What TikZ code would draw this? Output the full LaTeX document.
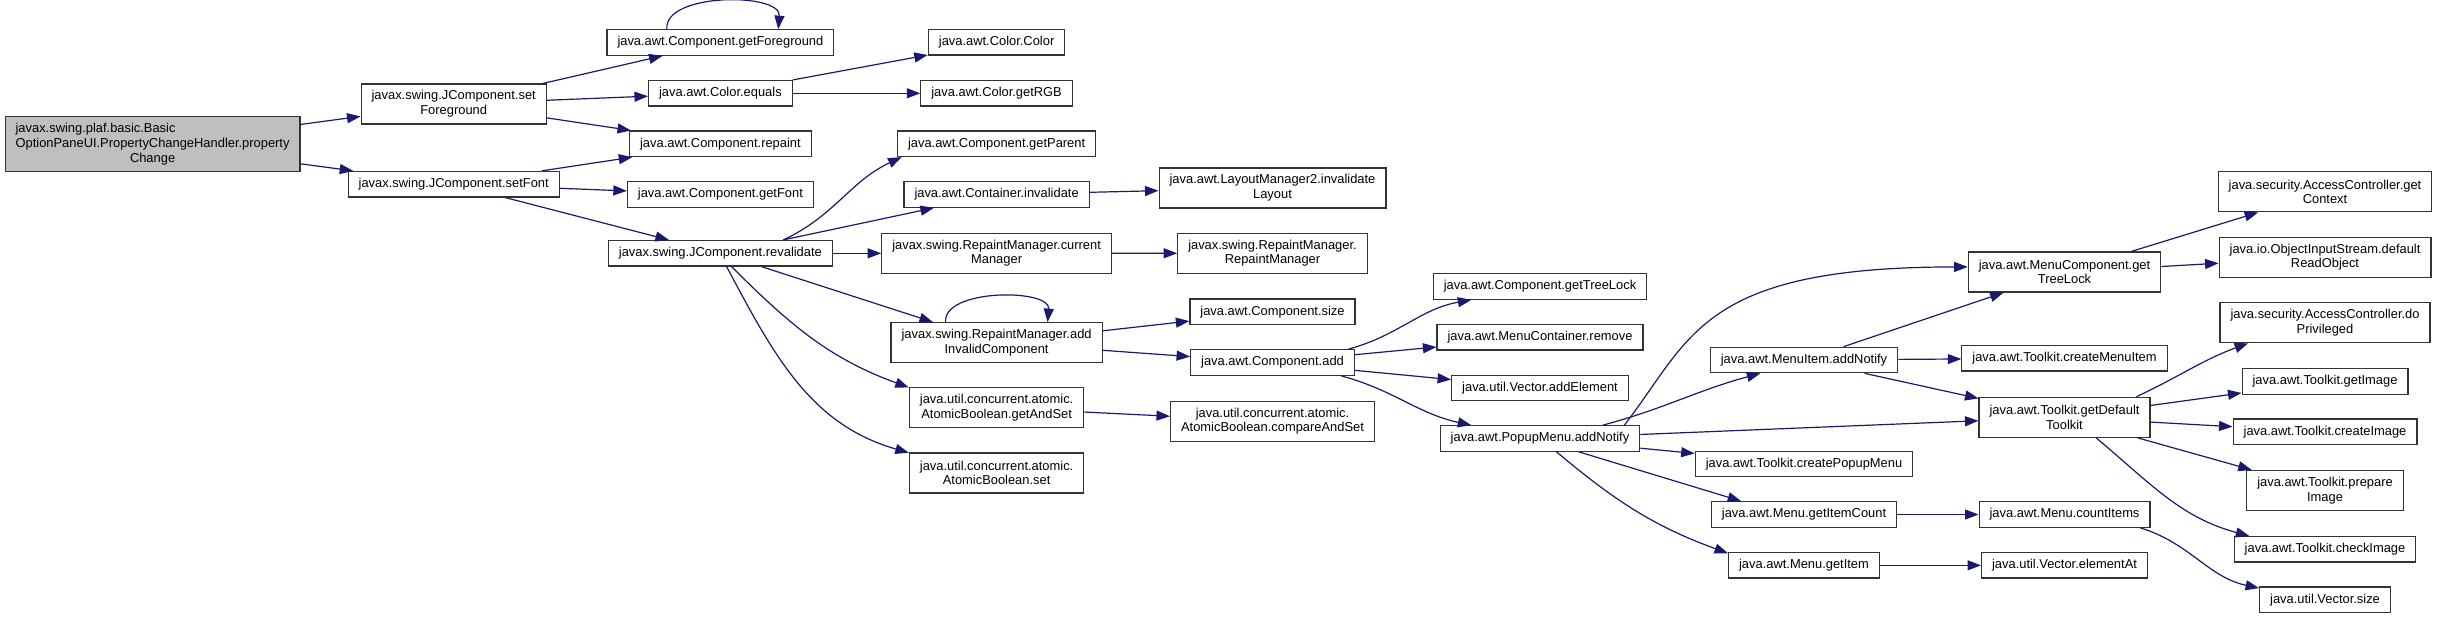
\documentclass[tikz,border=0pt]{standalone}
\usepackage{fontspec}
\setmainfont{Liberation Sans}
\usetikzlibrary{arrows.meta}
\definecolor{callblue}{HTML}{191970}
\definecolor{rootgray}{HTML}{BFBFBF}
\begin{document}
\begin{tikzpicture}[x=1pt,y=1pt,>={Triangle[length=13.5pt,width=10pt]},
	font=\fontsize{12.9pt}{14.7pt}\selectfont,
	fn/.style={draw=black!80,line width=1.2pt,fill=white,inner xsep=10.5pt,inner ysep=2pt,minimum height=25.5pt,align=center},
	fntwo/.style={fn,minimum height=40pt},
	call/.style={->,draw=callblue,line width=1.2pt}]
	\useasboundingbox (0,0) rectangle (2440,-619);
	\node[fn,fill=rootgray,minimum height=55pt,align=left] (root) at (152.6,-144.2) {javax.swing.plaf.basic.Basic\\OptionPaneUI.PropertyChangeHandler.property\\\hspace*{\fill}Change\hspace*{\fill}};
	\node[fntwo] (setfg) at (453.7,-104) {javax.swing.JComponent.set\\Foreground};
	\node[fn] (setfont) at (453.7,-184.2) {javax.swing.JComponent.setFont};
	\node[fn] (getfg) at (720.4,-42.5) {java.awt.Component.getForeground};
	\node[fn] (coleq) at (720.4,-93.3) {java.awt.Color.equals};
	\node[fn] (repaint) at (720.4,-143.8) {java.awt.Component.repaint};
	\node[fn] (getfont) at (720.4,-194.5) {java.awt.Component.getFont};
	\node[fn] (reval) at (720.4,-253.3) {javax.swing.JComponent.revalidate};
	\node[fn] (colcol) at (996.6,-42.3) {java.awt.Color.Color};
	\node[fn] (getrgb) at (996.6,-93.3) {java.awt.Color.getRGB};
	\node[fn] (getparent) at (996.6,-143.8) {java.awt.Component.getParent};
	\node[fn] (continv) at (996.6,-194.5) {java.awt.Container.invalidate};
	\node[fntwo] (curmgr) at (996.6,-253.3) {javax.swing.RepaintManager.current\\Manager};
	\node[fntwo] (addinv) at (996.6,-342.7) {javax.swing.RepaintManager.add\\InvalidComponent};
	\node[fntwo] (getandset) at (996.6,-407.7) {java.util.concurrent.atomic.\\AtomicBoolean.getAndSet};
	\node[fntwo] (atomset) at (996.6,-473) {java.util.concurrent.atomic.\\AtomicBoolean.set};
	\node[fntwo] (lminv) at (1272.5,-188) {java.awt.LayoutManager2.invalidate\\Layout};
	\node[fntwo] (rmgr) at (1272.5,-253.2) {javax.swing.RepaintManager.\\RepaintManager};
	\node[fn] (csize) at (1272.5,-311.8) {java.awt.Component.size};
	\node[fn] (cadd) at (1272.5,-362.5) {java.awt.Component.add};
	\node[fntwo] (cas) at (1272.5,-421.3) {java.util.concurrent.atomic.\\AtomicBoolean.compareAndSet};
	\node[fn] (ctreelock) at (1540,-286.5) {java.awt.Component.getTreeLock};
	\node[fn] (mcremove) at (1540,-337.2) {java.awt.MenuContainer.remove};
	\node[fn] (addelem) at (1540,-388) {java.util.Vector.addElement};
	\node[fn] (popnotify) at (1540,-438.5) {java.awt.PopupMenu.addNotify};
	\node[fn] (minotify) at (1804,-360) {java.awt.MenuItem.addNotify};
	\node[fn] (mkpopup) at (1804,-464) {java.awt.Toolkit.createPopupMenu};
	\node[fn] (itemcount) at (1804,-514.5) {java.awt.Menu.getItemCount};
	\node[fn] (getitem) at (1804,-565.3) {java.awt.Menu.getItem};
	\node[fntwo] (mctreelock) at (2064.5,-272) {java.awt.MenuComponent.get\\TreeLock};
	\node[fn] (mkmenuitem) at (2064.5,-358.3) {java.awt.Toolkit.createMenuItem};
	\node[fntwo] (deftk) at (2064.5,-417.3) {java.awt.Toolkit.getDefault\\Toolkit};
	\node[fn] (countitems) at (2064.5,-514.5) {java.awt.Menu.countItems};
	\node[fn] (elemat) at (2064.5,-565.3) {java.util.Vector.elementAt};
	\node[fntwo] (getctx) at (2325,-191.8) {java.security.AccessController.get\\Context};
	\node[fntwo] (readobj) at (2325,-257.2) {java.io.ObjectInputStream.default\\ReadObject};
	\node[fntwo] (doprivileged) at (2325,-322.7) {java.security.AccessController.do\\Privileged};
	\node[fn] (getimage) at (2325,-381.5) {java.awt.Toolkit.getImage};
	\node[fn] (mkimage) at (2325,-431.8) {java.awt.Toolkit.createImage};
	\node[fntwo] (prepimage) at (2325,-490.5) {java.awt.Toolkit.prepare\\Image};
	\node[fn] (checkimage) at (2325,-549.3) {java.awt.Toolkit.checkImage};
	\node[fn] (vsize) at (2325,-599.7) {java.util.Vector.size};
	% calls
	\draw[call] (root) -- (setfg);
	\draw[call] (root) -- (setfont);
	\draw[call] (setfg) -- (getfg);
	\draw[call] (setfg) -- (coleq);
	\draw[call] (setfg) -- (repaint);
	\draw[call] (setfont) -- (repaint);
	\draw[call] (setfont) -- (getfont);
	\draw[call] (setfont) -- (reval);
	\draw[call] (getfg.166) to[out=95,in=85,looseness=0.85] (getfg.13);
	\draw[call] (coleq) -- (colcol);
	\draw[call] (coleq) -- (getrgb);
	\draw[call] (reval.12) to[out=25,in=205] (getparent.188);
	\draw[call] (reval) -- (continv);
	\draw[call] (reval) -- (curmgr);
	\draw[call] (reval) -- (addinv);
	\draw[call] (reval.310) to[out=-45,in=160] (getandset.167);
	\draw[call] (reval.295) to[out=-62,in=164] (atomset.167);
	\draw[call] (continv) -- (lminv);
	\draw[call] (curmgr) -- (rmgr);
	\draw[call] (addinv.158) to[out=95,in=85,looseness=0.85] (addinv.22);
	\draw[call] (addinv) -- (csize);
	\draw[call] (addinv) -- (cadd);
	\draw[call] (getandset) -- (cas);
	\draw[call] (cadd.10) to[out=15,in=190] (ctreelock.191);
	\draw[call] (cadd) -- (mcremove);
	\draw[call] (cadd) -- (addelem);
	\draw[call] (cadd.349) to[out=-15,in=168] (popnotify.169);
	\draw[call] (popnotify.9) .. controls +(67,86) and +(-269,0) .. (mctreelock.177);
	\draw[call] (popnotify.12) to[out=15,in=195] (minotify.197);
	\draw[call] (popnotify) -- (deftk);
	\draw[call] (popnotify) -- (mkpopup);
	\draw[call] (popnotify.341) -- (itemcount.168);
	\draw[call] (popnotify.321) to[out=-40,in=160] (getitem.171);
	\draw[call] (minotify) -- (mctreelock);
	\draw[call] (minotify) -- (mkmenuitem);
	\draw[call] (minotify) -- (deftk);
	\draw[call] (mctreelock) -- (getctx);
	\draw[call] (mctreelock) -- (readobj);
	\draw[call] (deftk.16) to[out=25,in=200] (doprivileged.195);
	\draw[call] (deftk) -- (getimage);
	\draw[call] (deftk) -- (mkimage);
	\draw[call] (deftk) -- (prepimage);
	\draw[call] (deftk.327) to[out=-40,in=165] (checkimage.170);
	\draw[call] (itemcount) -- (countitems);
	\draw[call] (getitem) -- (elemat);
	\draw[call] (countitems.350) to[out=-17,in=168] (vsize.170);
\end{tikzpicture}
\end{document}
